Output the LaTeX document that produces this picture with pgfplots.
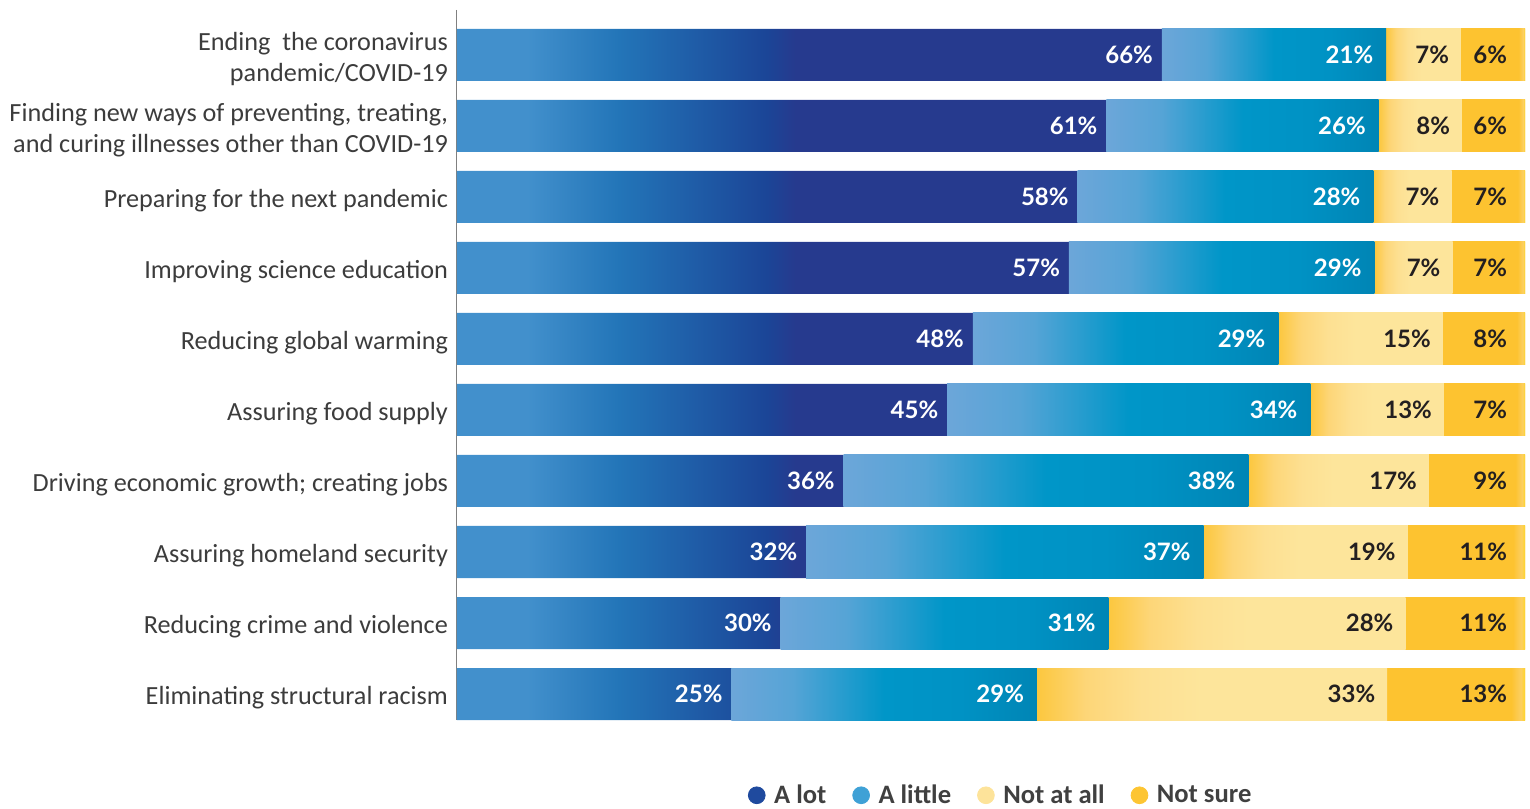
\documentclass[border=0pt]{standalone}
\usepackage{fontspec}
\usepackage{pgfplots}
\pgfplotsset{compat=1.18}
\setmainfont{Carlito}
\newfontfamily\catfont{Carlito}
\newfontfamily\valfont{Lato}

\definecolor{labgray}{HTML}{3C3C3C}
\definecolor{leggray}{HTML}{404040}
\definecolor{valdark}{HTML}{231F20}
\definecolor{axgray}{HTML}{808080}
% legend dots
\definecolor{alot}{HTML}{1F4A9E}
\definecolor{alittle}{HTML}{3FA1D6}
\definecolor{notatall}{HTML}{FDE39A}
\definecolor{notsure}{HTML}{FDC533}
% gradient stops
\definecolor{alotA}{HTML}{4290CC}
\definecolor{alotB}{HTML}{2375B8}
\definecolor{alotC}{HTML}{1B4597}
\definecolor{alotD}{HTML}{263A8E}
\definecolor{litA}{HTML}{6CA6D9}
\definecolor{litB}{HTML}{56A4D6}
\definecolor{litC}{HTML}{0096C8}
\definecolor{litD}{HTML}{0092C4}
\definecolor{litE}{HTML}{0085B5}
\definecolor{nalA}{HTML}{FCC73E}
\definecolor{nalB}{HTML}{FDD678}
\definecolor{nalC}{HTML}{FDE092}
\definecolor{nalD}{HTML}{FDE59B}
\definecolor{nsA}{HTML}{FDC330}
\definecolor{nsB}{HTML}{FCCF62}
\definecolor{nsC}{HTML}{FED426}

% A lot: one gradient over the whole series (0..66)
\pgfdeclarehorizontalshading{alotsh}{100bp}{color(0bp)=(alotA); color(30bp)=(alotA);
  color(36.5bp)=(alotB); color(47bp)=(alotC); color(49bp)=(alotD); color(100bp)=(alotD)}
% the others: one gradient per segment
\pgfdeclarehorizontalshading{alittlesh}{100bp}{color(0bp)=(litA); color(25bp)=(litA);
  color(35bp)=(litB); color(50bp)=(litC); color(62.5bp)=(litD); color(75bp)=(litE); color(100bp)=(litE)}
\pgfdeclarehorizontalshading{notatallsh}{100bp}{color(0bp)=(nalA); color(25bp)=(nalA);
  color(32bp)=(nalB); color(40bp)=(nalC); color(48.5bp)=(nalD); color(100bp)=(nalD)}
\pgfdeclarehorizontalshading{notsuresh}{100bp}{color(0bp)=(nsA); color(70bp)=(nsA);
  color(73.5bp)=(nsB); color(75bp)=(nsC); color(100bp)=(nsC)}

% segment node: as wide as the segment, label right-aligned inside
\pgfplotsset{
  seg/.style n args={3}{
    visualization depends on={rawx \as \rawx},
    nodes near coords={},
    every node near coord/.append style={anchor=center, inner sep=0pt,
      minimum height=26pt, minimum width={\rawx*5.34pt}, #1,
      label={[anchor=east, inner sep=0pt, xshift=-#3, text=#2,
        font=\valfont\bfseries\fontsize{12}{12}\selectfont]east:\pgfplotspointmeta}}},
}

\begin{document}
\begin{tikzpicture}
\begin{axis}[
    at={(0pt,0pt)}, anchor=south west,
    scale only axis,
    width=534pt, height=355pt,
    xbar stacked,
    bar width=26pt,
    xmin=0, xmax=100,
    ymin=-0.633, ymax=9.366,
    y dir=reverse,
    axis x line=none,
    axis y line*=left,
    y axis line style={draw=axgray, line width=0.5pt},
    ytick={0,...,9},
    major tick length=0pt,
    yticklabels={
      {Ending\ \ the coronavirus\\pandemic/COVID-19},
      {Finding new ways of preventing, treating,\\and curing illnesses other than COVID-19},
      {Preparing for the next pandemic},
      {Improving science education},
      {Reducing global warming},
      {Assuring food supply},
      {Driving economic growth; creating jobs},
      {Assuring homeland security},
      {Reducing crime and violence},
      {Eliminating structural racism}},
    yticklabel style={align=right, text=labgray, xshift=-1pt, yshift=-2pt,
      font=\catfont\fontsize{13.1}{15.3}\selectfont},
    point meta=explicit symbolic,
    legend style={at={(0.51,-0.106)}, anchor=center, draw=none, fill=none,
      legend columns=4, text=leggray,
      font=\catfont\bfseries\fontsize{13.3}{13.3}\selectfont,
      /tikz/every even column/.append style={column sep=11pt}},
]
\addlegendimage{legend image code/.code={\fill[alot] (0pt,0pt) circle (4.2pt); \path (6.5pt,0pt);}}
\addlegendimage{legend image code/.code={\fill[alittle] (0pt,0pt) circle (4.2pt); \path (6.5pt,0pt);}}
\addlegendimage{legend image code/.code={\fill[notatall] (0pt,0pt) circle (4.2pt); \path (6.5pt,0pt);}}
\addlegendimage{legend image code/.code={\fill[notsure] (0pt,0pt) circle (4.2pt); \path (6.5pt,0pt);}}

\addplot[draw=none, shade, shading=alotsh, seg={}{white}{4.5pt}]
coordinates {(66.0,0) [66\%] (60.8,1) [61\%] (58.1,2) [58\%] (57.3,3) [57\%]
  (48.3,4) [48\%] (45.9,5) [45\%] (36.2,6) [36\%] (32.7,7) [32\%]
  (30.3,8) [30\%] (25.7,9) [25\%]};
\addplot[draw=none, fill=litC, seg={shade, shading=alittlesh}{white}{6.5pt}]
coordinates {(21.0,0) [21\%] (25.5,1) [26\%] (27.7,2) [28\%] (28.6,3) [29\%]
  (28.6,4) [29\%] (34.0,5) [34\%] (37.9,6) [38\%] (37.2,7) [37\%]
  (30.7,8) [31\%] (28.6,9) [29\%]};
\addplot[draw=none, fill=nalD, seg={shade, shading=notatallsh}{valdark}{6pt}]
coordinates {(7.0,0) [7\%] (7.8,1) [8\%] (7.3,2) [7\%] (7.3,3) [7\%]
  (15.4,4) [15\%] (12.5,5) [13\%] (16.9,6) [17\%] (19.1,7) [19\%]
  (27.8,8) [28\%] (32.8,9) [33\%]};
\addplot[draw=none, fill=nsA, seg={shade, shading=notsuresh}{valdark}{9pt}]
coordinates {(6.0,0) [6\%] (5.9,1) [6\%] (6.9,2) [7\%] (6.8,3) [7\%]
  (7.7,4) [8\%] (7.6,5) [7\%] (9.0,6) [9\%] (11.0,7) [11\%]
  (11.2,8) [11\%] (12.9,9) [13\%]};
\legend{A lot, A little, Not at all, Not sure}
\end{axis}
\pgfresetboundingbox
\path (-228.5pt,-44pt) rectangle (536.5pt,360pt);
\end{tikzpicture}
\end{document}
